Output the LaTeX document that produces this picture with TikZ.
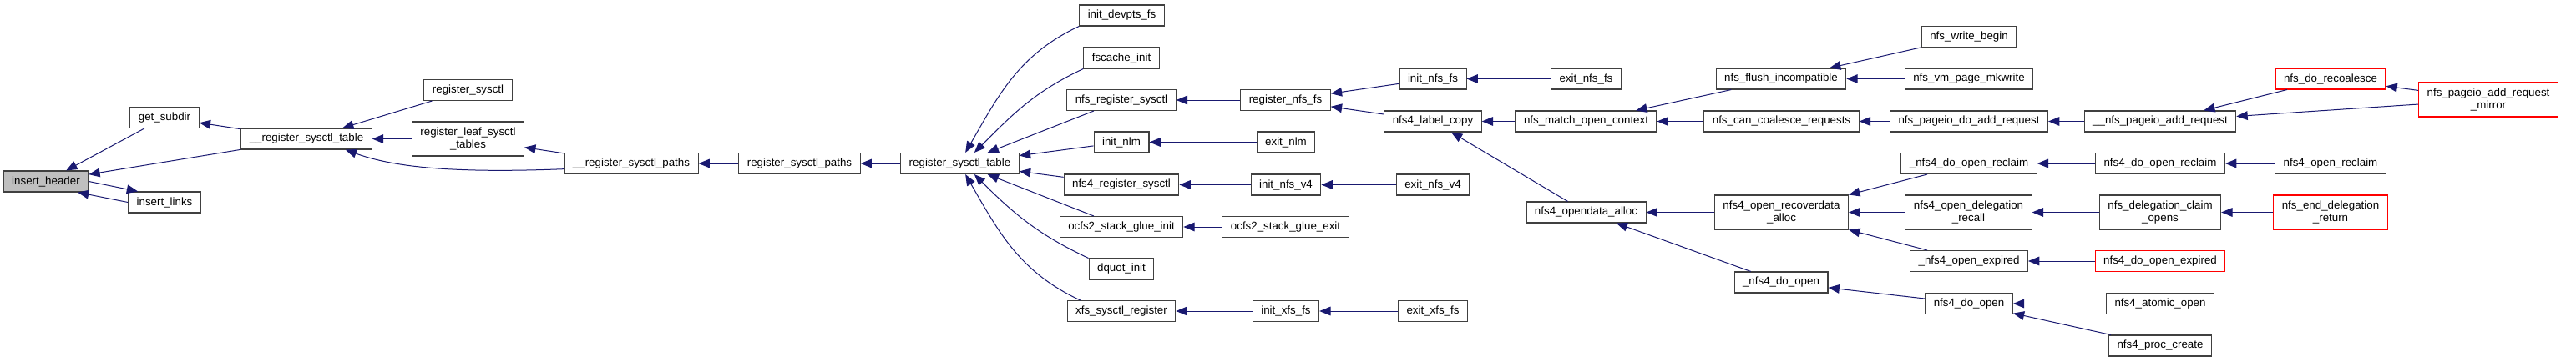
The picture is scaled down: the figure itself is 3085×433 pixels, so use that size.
\documentclass[tikz,border=0pt]{standalone}
\usepackage{fontspec}
\setmainfont{Liberation Sans}
\usetikzlibrary{arrows.meta}
\definecolor{edgeblue}{HTML}{191970}
\definecolor{boxline}{HTML}{404040}
\definecolor{rootfill}{HTML}{BFBFBF}
\definecolor{warnred}{HTML}{FF0000}

\begin{document}
\begin{tikzpicture}[
    x=0.75pt,y=-0.75pt,
    font=\fontsize{10}{11}\selectfont,
    fn/.style={draw=boxline,fill=white,line width=0.8pt,inner xsep=7.5pt,
               inner ysep=2pt,minimum height=18.75pt,align=center},
    tall/.style={minimum height=30.75pt},
    root/.style={fn,fill=rootfill},
    nodoc/.style={fn,draw=warnred},
    call/.style={-{Triangle[length=10pt,width=8pt]},draw=edgeblue,
                 line width=0.75pt}
  ]
  \useasboundingbox (0,0) rectangle (3085,433);

  % sysctl core
  \node[root] (ih)   at (55,217.5)  {insert\_header};
  \node[fn]   (gsd)  at (197,141)   {get\_subdir};
  \node[fn]   (il)   at (197,242.5) {insert\_links};
  \node[fn]   (urst) at (367,166.5) {\_\_register\_sysctl\_table};
  \node[fn]   (rs)   at (560.5,108) {register\_sysctl};
  \node[fn,tall] (rlst) at (560.5,166.5) {register\_leaf\_sysctl\\\_tables};
  \node[fn]   (ursp) at (756,196)   {\_\_register\_sysctl\_paths};
  \node[fn]   (rsp)  at (957.5,196) {register\_sysctl\_paths};
  \node[fn]   (rst)  at (1149.5,196) {register\_sysctl\_table};

  % callers of register_sysctl_table
  \node[fn] (devpts) at (1343.5,18.5) {init\_devpts\_fs};
  \node[fn] (fsc)    at (1343,69.5)   {fscache\_init};
  \node[fn] (nrs)    at (1343,120)    {nfs\_register\_sysctl};
  \node[fn] (inlm)   at (1343,170.5)  {init\_nlm};
  \node[fn] (n4rs)   at (1343,221.5)  {nfs4\_register\_sysctl};
  \node[fn] (ocfi)   at (1343,272)    {ocfs2\_stack\_glue\_init};
  \node[fn] (dq)     at (1343,322.5)  {dquot\_init};
  \node[fn] (xsr)    at (1343,373)    {xfs\_sysctl\_register};

  \node[fn] (rnfs) at (1539.5,120)   {register\_nfs\_fs};
  \node[fn] (enlm) at (1540,170.5)   {exit\_nlm};
  \node[fn] (inv4) at (1540,221.5)   {init\_nfs\_v4};
  \node[fn] (ocfe) at (1539.5,272)   {ocfs2\_stack\_glue\_exit};
  \node[fn] (ixfs) at (1540,373)     {init\_xfs\_fs};

  \node[fn] (infs)  at (1716,94.5)   {init\_nfs\_fs};
  \node[fn] (lcopy) at (1716,145.5)  {nfs4\_label\_copy};
  \node[fn] (env4)  at (1716,221.5)  {exit\_nfs\_v4};
  \node[fn] (exfs)  at (1716,373)    {exit\_xfs\_fs};

  % nfs side
  \node[fn] (enfs) at (1899.5,94.5)  {exit\_nfs\_fs};
  \node[fn] (moc)  at (1899.5,145.5) {nfs\_match\_open\_context};
  \node[fn] (oda)  at (1899.5,254.5) {nfs4\_opendata\_alloc};

  \node[fn] (flush) at (2133,94.5)   {nfs\_flush\_incompatible};
  \node[fn] (ccr)   at (2133.5,145.5) {nfs\_can\_coalesce\_requests};
  \node[fn,tall] (orda) at (2133.5,254.5) {nfs4\_open\_recoverdata\\\_alloc};
  \node[fn] (udo)   at (2133,338.5)  {\_nfs4\_do\_open};

  \node[fn] (wb)   at (2358,44)      {nfs\_write\_begin};
  \node[fn] (mkw)  at (2358,94.5)    {nfs\_vm\_page\_mkwrite};
  \node[fn] (pdar) at (2358,145.5)   {nfs\_pageio\_do\_add\_request};
  \node[fn] (udor) at (2358,196)     {\_nfs4\_do\_open\_reclaim};
  \node[fn,tall] (odr) at (2357.5,254.5) {nfs4\_open\_delegation\\\_recall};
  \node[fn] (uoe)  at (2358,313)     {\_nfs4\_open\_expired};
  \node[fn] (ndo)  at (2358,364)     {nfs4\_do\_open};

  \node[fn] (upar) at (2587,145.5)   {\_\_nfs\_pageio\_add\_request};
  \node[fn] (dor)  at (2587,196)     {nfs4\_do\_open\_reclaim};
  \node[fn,tall] (dco) at (2587,254.5) {nfs\_delegation\_claim\\\_opens};
  \node[nodoc] (doe) at (2587,313)   {nfs4\_do\_open\_expired};
  \node[fn] (ao)   at (2587,364)     {nfs4\_atomic\_open};
  \node[fn] (pc)   at (2587,414.5)   {nfs4\_proc\_create};

  \node[nodoc] (recoal) at (2791,94.5) {nfs\_do\_recoalesce};
  \node[fn]    (opr)    at (2791,196)  {nfs4\_open\_reclaim};
  \node[nodoc,tall] (edr) at (2791,254.5) {nfs\_end\_delegation\\\_return};
  \node[nodoc,tall] (mirror) at (2980,119.5) {nfs\_pageio\_add\_request\\\_mirror};

  % calls, arrow on the callee
  \draw[call] (gsd) -- (ih);
  \draw[call] (urst) -- (ih);
  \draw[call] (urst) -- (gsd);
  \draw[call] (ih.east) -- ([xshift=9pt]il.north west);
  \draw[call] (il.west) -- ([xshift=-10pt]ih.south east);
  \draw[call] (rs) -- (urst);
  \draw[call] (rlst) -- (urst);
  \draw[call] ([yshift=-5pt]ursp.west) .. controls (540,208) and (470,200)
              .. ([xshift=-24pt]urst.south east);
  \draw[call] (ursp) -- (rlst);
  \draw[call] (rsp) -- (ursp);
  \draw[call] (rst) -- (rsp);

  \draw[call] (devpts.south west) to[out=205,in=60] ([xshift=5pt]rst.north);
  \draw[call] (fsc.south west) to[out=205,in=45] ([xshift=13pt]rst.north);
  \draw[call] (nrs) -- (rst);
  \draw[call] (inlm) -- (rst);
  \draw[call] (n4rs) -- (rst);
  \draw[call] (ocfi) -- (rst);
  \draw[call] (dq.north west) to[out=155,in=-45] ([xshift=13pt]rst.south);
  \draw[call] ([xshift=12pt]xsr.north west) to[out=155,in=-60] ([xshift=5pt]rst.south);

  \draw[call] (rnfs) -- (nrs);
  \draw[call] (enlm) -- (inlm);
  \draw[call] (inv4) -- (n4rs);
  \draw[call] (ocfe) -- (ocfi);
  \draw[call] (ixfs) -- (xsr);
  \draw[call] (infs) -- (rnfs);
  \draw[call] (lcopy) -- (rnfs);
  \draw[call] (enfs) -- (infs);
  \draw[call] (env4) -- (inv4);
  \draw[call] (exfs) -- (ixfs);

  \draw[call] (moc) -- (lcopy);
  \draw[call] (oda) -- (lcopy);
  \draw[call] (flush) -- (moc);
  \draw[call] (ccr) -- (moc);
  \draw[call] (orda) -- (oda);
  \draw[call] (udo) -- (oda);
  \draw[call] (wb) -- (flush);
  \draw[call] (mkw) -- (flush);
  \draw[call] (pdar) -- (ccr);
  \draw[call] (udor) -- (orda);
  \draw[call] (odr) -- (orda);
  \draw[call] (uoe) -- (orda);
  \draw[call] (ndo) -- (udo);
  \draw[call] (upar) -- (pdar);
  \draw[call] (dor) -- (udor);
  \draw[call] (dco) -- (odr);
  \draw[call] (doe) -- (uoe);
  \draw[call] (ao) -- (ndo);
  \draw[call] (pc) -- (ndo);
  \draw[call] (recoal) -- (upar);
  \draw[call] (mirror) -- (upar);
  \draw[call] (mirror) -- (recoal);
  \draw[call] (opr) -- (dor);
  \draw[call] (edr) -- (dco);

\end{tikzpicture}
\end{document}
